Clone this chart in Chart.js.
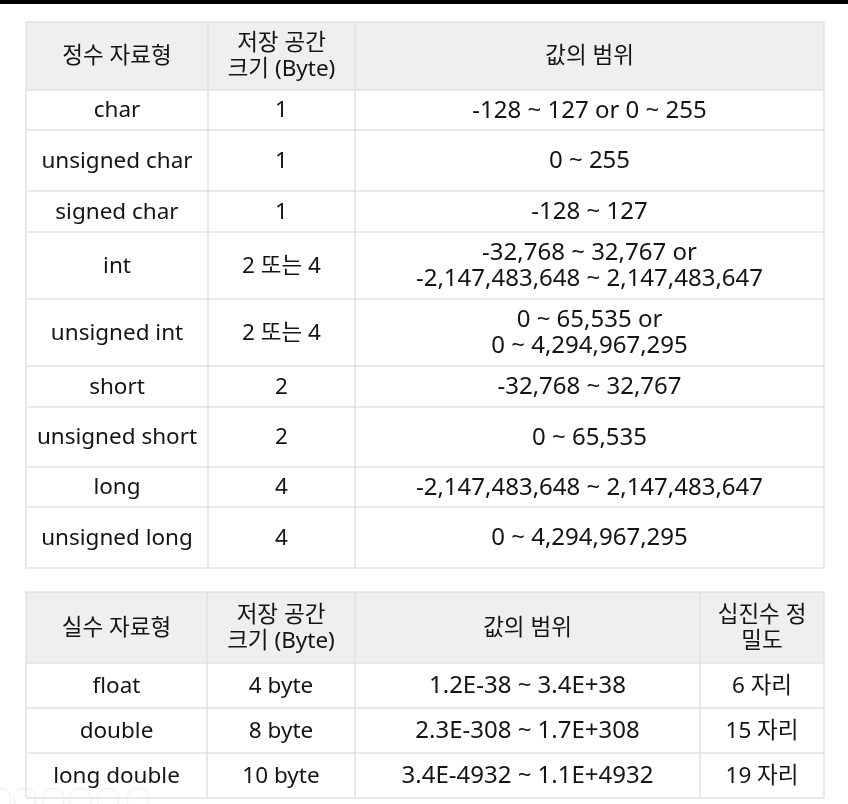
<!DOCTYPE html>
<html>
<head>
<meta charset="utf-8">
<script src="https://cdn.jsdelivr.net/npm/chart.js@4/dist/chart.umd.min.js"></script>
<style>
  html, body { margin: 0; padding: 0; background: #ffffff; }
  #wrap { width: 848px; height: 804px; position: relative; }
  canvas { display: block; }
</style>
</head>
<body>
<div id="wrap"><canvas id="c" width="848" height="804"></canvas></div>
<script>
// ---- content ----
const intHeaders = ['정수 자료형', ['저장 공간', '크기 (Byte)'], '값의 범위'];
const intTypes = ['char', 'unsigned char', 'signed char', 'int', 'unsigned int', 'short', 'unsigned short', 'long', 'unsigned long'];
const intSizes = ['1', '1', '1', '2 또는 4', '2 또는 4', '2', '2', '4', '4'];
const intRanges = [
  ['-128 ~ 127 or 0 ~ 255'],
  ['0 ~ 255'],
  ['-128 ~ 127'],
  ['-32,768 ~ 32,767 or', '-2,147,483,648 ~ 2,147,483,647'],
  ['0 ~ 65,535 or', '0 ~ 4,294,967,295'],
  ['-32,768 ~ 32,767'],
  ['0 ~ 65,535'],
  ['-2,147,483,648 ~ 2,147,483,647'],
  ['0 ~ 4,294,967,295']
];
const floatHeaders = ['실수 자료형', ['저장 공간', '크기 (Byte)'], '값의 범위', ['십진수 정', '밀도']];
const floatTypes = ['float', 'double', 'long double'];
const floatSizes = ['4 byte', '8 byte', '10 byte'];
const floatRanges = ['1.2E-38 ~ 3.4E+38', '2.3E-308 ~ 1.7E+308', '3.4E-4932 ~ 1.1E+4932'];
const floatDigits = ['6 자리', '15 자리', '19 자리'];

// ---- layout (scale units) ----
const intCols = [26, 208, 355, 824];
const intRows = [22, 90, 130, 191, 232, 299, 366, 407, 467, 507, 568];
const floatCols = [26, 207, 355, 700, 824];
const floatRows = [592, 663, 708, 753, 798];
const iconXs = [0, 25, 53, 80, 108, 138];

const FAMILY = '"Noto Sans", "Noto Sans CJK KR", sans-serif';
const BODY_SIZE = 22.5;
const RANGE_SIZE = 24;
const LINE_H = 26;

function buildTable(headers, columns) {
  const rows = [headers.map(h => Array.isArray(h) ? h : [h])];
  const n = columns[0].length;
  for (let i = 0; i < n; i++) {
    rows.push(columns.map(col => Array.isArray(col[i]) ? col[i] : [col[i]]));
  }
  return rows;
}

const tables = [
  { rows: buildTable(intHeaders, [intTypes, intSizes, intRanges]), cols: intCols, rowEdges: intRows, rangeCol: 2 },
  { rows: buildTable(floatHeaders, [floatTypes, floatSizes, floatRanges, floatDigits]), cols: floatCols, rowEdges: floatRows, rangeCol: 2 }
];

const tablePlugin = {
  id: 'tablePlugin',
  beforeDatasetsDraw(chart) {
    const ctx = chart.ctx;
    const xs = chart.scales.x, ys = chart.scales.y;
    const X = v => xs.getPixelForValue(v);
    const Y = v => ys.getPixelForValue(v);
    ctx.save();
    // top black bar
    ctx.fillStyle = '#000000';
    ctx.fillRect(X(0), Y(0), X(848) - X(0), Y(4) - Y(0));

    tables.forEach(t => {
      const c = t.cols, r = t.rowEdges;
      // header background
      ctx.fillStyle = '#efefef';
      ctx.fillRect(X(c[0]), Y(r[0]), X(c[c.length - 1]) - X(c[0]), Y(r[1]) - Y(r[0]));
      // grid lines
      ctx.strokeStyle = '#e2e2e2';
      ctx.lineWidth = 1.5;
      ctx.beginPath();
      r.forEach(yv => { ctx.moveTo(X(c[0]), Y(yv)); ctx.lineTo(X(c[c.length - 1]), Y(yv)); });
      c.forEach(xv => { ctx.moveTo(X(xv), Y(r[0])); ctx.lineTo(X(xv), Y(r[r.length - 1])); });
      ctx.stroke();
      // text
      ctx.fillStyle = '#141414';
      ctx.textAlign = 'center';
      ctx.textBaseline = 'middle';
      t.rows.forEach((row, ri) => {
        const cy = (Y(r[ri]) + Y(r[ri + 1])) / 2;
        row.forEach((lines, ci) => {
          const size = (ri > 0 && ci === t.rangeCol) ? RANGE_SIZE : BODY_SIZE;
          ctx.font = size + 'px ' + FAMILY;
          const cx = (X(c[ci]) + X(c[ci + 1])) / 2;
          const start = cy - (lines.length - 1) * LINE_H / 2;
          lines.forEach((s, li) => ctx.fillText(s, cx, start + li * LINE_H + 1));
        });
      });
    });

    // faint share icons at bottom left
    ctx.strokeStyle = '#ececec';
    ctx.lineWidth = 1;
    iconXs.forEach(xv => {
      ctx.beginPath();
      ctx.arc(X(xv), Y(799), 11, 0, Math.PI * 2);
      ctx.stroke();
    });
    ctx.restore();
  }
};

new Chart(document.getElementById('c'), {
  type: 'scatter',
  data: { datasets: [{ data: [] }] },
  options: {
    responsive: false,
    animation: false,
    devicePixelRatio: 1,
    layout: { padding: 0 },
    scales: {
      x: { type: 'linear', min: 0, max: 848, display: false },
      y: { type: 'linear', min: 0, max: 804, reverse: true, display: false }
    },
    plugins: { legend: { display: false }, tooltip: { enabled: false } }
  },
  plugins: [tablePlugin]
});
</script>
</body>
</html>
